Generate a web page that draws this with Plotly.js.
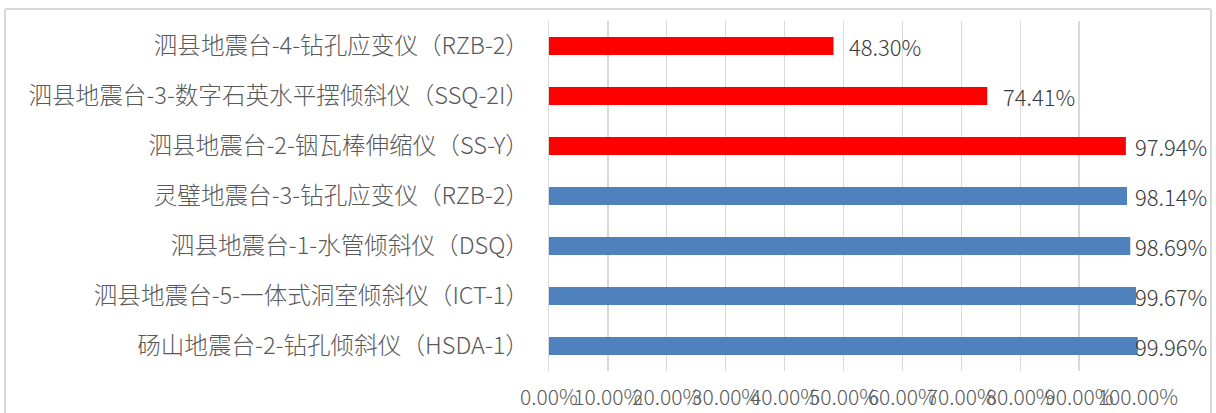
<!DOCTYPE html>
<html>
<head>
<meta charset="utf-8">
<script src="https://cdn.plot.ly/plotly-3.0.1.min.js"></script>
<style>
  html, body { margin: 0; padding: 0; background: #ffffff; overflow: hidden; }
  #wrap { position: relative; width: 1216px; height: 413px; }
  #chart { position: absolute; left: 0; top: 0; width: 1216px; height: 413px; }
  #frame { position: absolute; left: 4px; top: 8px; width: 1208px; height: 440px;
           border: 2px solid #D9D9D9; border-radius: 3px; pointer-events: none; box-sizing: border-box; }
</style>
</head>
<body>
<div id="wrap">
  <div id="chart"></div>
  <div id="frame"></div>
</div>
<script>
// ---- data (top to bottom as shown) ----
const categories = [
  "泗县地震台-4-钻孔应变仪（RZB-2）",
  "泗县地震台-3-数字石英水平摆倾斜仪（SSQ-2I）",
  "泗县地震台-2-铟瓦棒伸缩仪（SS-Y）",
  "灵璧地震台-3-钻孔应变仪（RZB-2）",
  "泗县地震台-1-水管倾斜仪（DSQ）",
  "泗县地震台-5-一体式洞室倾斜仪（ICT-1）",
  "砀山地震台-2-钻孔倾斜仪（HSDA-1）"
];
const values = [0.4830, 0.7441, 0.9794, 0.9814, 0.9869, 0.9967, 0.9996];
const flagged = [true, true, true, false, false, false, false];

// ---- style ----
const RED = "#FF0000";
const BLUE = "#4F81BD";
const FONT = "'Noto Sans CJK SC', 'Noto Sans', sans-serif";
const W = 1216, H = 413;
const M = { l: 549, r: 78, t: 21, b: 42 };
const plotW = W - M.l - M.r;
const labelGap = 14;          // px between bar end and label
const labelW = 74;            // approx label width px
const labelRightLimit = 1209; // labels kept inside the chart frame

const colors = flagged.map(f => f ? RED : BLUE);

const annotations = values.map((v, i) => {
  const txt = (v * 100).toFixed(2) + "%";
  const endPx = M.l + v * plotW + labelGap + labelW;
  const base = {
    yref: "y", y: categories[i], yanchor: "middle",
    text: txt, showarrow: false,
    font: { family: FONT, size: 22, color: "#3a3a3a", weight: 300 }
  };
  if (endPx <= labelRightLimit) {
    return Object.assign(base, { xref: "x", x: v, xanchor: "left", xshift: labelGap });
  }
  return Object.assign(base, { xref: "paper", x: (labelRightLimit - M.l) / plotW, xanchor: "right" });
});

const trace = {
  type: "bar",
  orientation: "h",
  y: categories,
  x: values,
  marker: { color: colors, line: { width: 0 } },
  hoverinfo: "skip",
  cliponaxis: false
};

const layout = {
  width: W, height: H,
  margin: M,
  paper_bgcolor: "#ffffff",
  plot_bgcolor: "#ffffff",
  showlegend: false,
  bargap: 0.64,
  font: { family: FONT, color: "#595959" },
  xaxis: {
    range: [0, 1], tick0: 0, dtick: 0.1, tickformat: ".2%",
    showgrid: true, gridcolor: "#D9D9D9", gridwidth: 1.3,
    zeroline: false, showline: false, ticks: "", tickangle: 0,
    ticklabelstandoff: 12,
    tickfont: { family: FONT, size: 21, color: "#595959", weight: 300 },
    fixedrange: true
  },
  yaxis: {
    type: "category", autorange: "reversed",
    showgrid: false, zeroline: false,
    showline: true, linecolor: "#D9D9D9", linewidth: 1.3,
    ticks: "", ticklabelstandoff: 14,
    tickfont: { family: FONT, size: 23.6, color: "#595959", weight: 300 },
    fixedrange: true
  },
  annotations: annotations
};

Plotly.newPlot("chart", [trace], layout, { displayModeBar: false, staticPlot: true });
</script>
</body>
</html>
